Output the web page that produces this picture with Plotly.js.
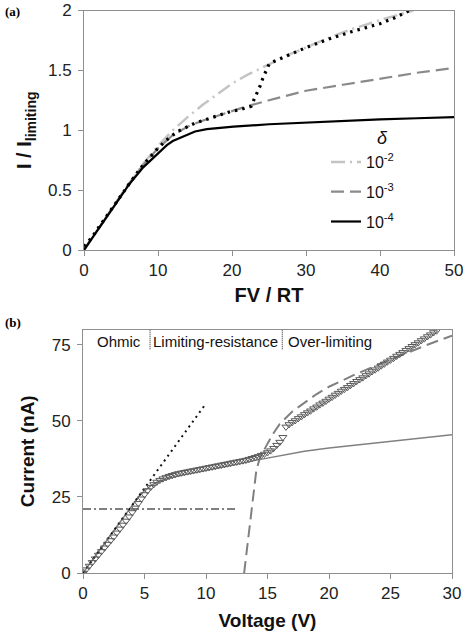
<!DOCTYPE html>
<html><head><meta charset="utf-8">
<script src="https://cdn.plot.ly/plotly-3.0.1.min.js"></script>
<style>html,body{margin:0;padding:0;background:#fff}#chart{width:469px;height:635px}</style>
</head><body><div id="chart"></div>
<script>
// ---------- Panel (a): I / I_limiting vs FV/RT ----------
const aX_d2 = [0, 2, 4, 6, 8, 10, 12, 14, 16, 18, 20, 22, 24, 26, 28, 30, 33, 36, 40, 44.5];
const aY_d2 = [0, 0.18, 0.37, 0.55, 0.72, 0.87, 1.0, 1.11, 1.21, 1.30, 1.39, 1.46, 1.52, 1.58, 1.64, 1.69, 1.77, 1.84, 1.92, 2.0];
const aX_d3 = [0, 2, 4, 6, 8, 10, 12, 14, 16, 18, 20, 22, 25, 30, 35, 40, 45, 50];
const aY_d3 = [0, 0.18, 0.37, 0.55, 0.71, 0.85, 0.96, 1.03, 1.08, 1.12, 1.16, 1.20, 1.25, 1.33, 1.38, 1.43, 1.48, 1.52];
const aX_d4 = [0, 2, 4, 6, 8, 10, 11.2, 12, 13.9, 15, 16.6, 18, 20.2, 25, 30, 35, 40, 45, 50];
const aY_d4 = [0, 0.18, 0.37, 0.54, 0.69, 0.81, 0.875, 0.91, 0.96, 0.99, 1.01, 1.02, 1.03, 1.05, 1.065, 1.08, 1.09, 1.10, 1.11];
const aX_exp = [0, 1, 2, 3, 4, 5, 6, 7, 8, 9, 10, 11, 12, 13, 14, 15, 16, 17, 18, 19, 20, 21, 22, 22.6, 23, 23.4, 23.8, 24.2, 24.6, 25, 25.5, 27, 30, 33, 36, 40, 42, 44];
const aY_exp = [0.03, 0.1, 0.19, 0.28, 0.37, 0.46, 0.55, 0.63, 0.71, 0.78, 0.85, 0.91, 0.96, 1.0, 1.03, 1.06, 1.08, 1.10, 1.12, 1.14, 1.16, 1.17, 1.19, 1.20, 1.26, 1.31, 1.37, 1.44, 1.50, 1.55, 1.57, 1.61, 1.69, 1.76, 1.82, 1.89, 1.94, 2.0];
const deltaLabels = ['10<sup>-2</sup>', '10<sup>-3</sup>', '10<sup>-4</sup>'];

// ---------- Panel (b): Current vs Voltage ----------
const bV_data = [0,0.25,0.5,0.75,1,1.25,1.5,1.75,2,2.25,2.5,2.75,3,3.25,3.5,3.75,4,4.25,4.5,4.75,5,5.25,5.5,5.75,6,6.25,6.5,6.75,7,7.25,7.5,7.75,8,8.25,8.5,8.75,9,9.25,9.5,9.75,10,10.25,10.5,10.75,11,11.25,11.5,11.75,12,12.25,12.5,12.75,13,13.25,13.5,13.75,14,14.25,14.5,14.75,15,15.25,15.5,15.75,16,16.25,16.5,16.75,17,17.25,17.5,17.75,18,18.25,18.5,18.75,19,19.25,19.5,19.75,20,20.25,20.5,20.75,21,21.25,21.5,21.75,22,22.25,22.5,22.75,23,23.25,23.5,23.75,24,24.25,24.5,24.75,25,25.25,25.5,25.75,26,26.25,26.5,26.75,27,27.25,27.5,27.75,28,28.25,28.5,28.75];
const bI_data = [0,1.1,2.3,3.5,4.7,5.9,7.1,8.3,9.5,10.7,11.9,13.2,14.5,15.8,17.1,18.5,19.9,21.4,22.9,24.4,25.8,27.1,28.2,29.1,29.9,30.5,31.0,31.4,31.8,32.1,32.4,32.7,32.9,33.1,33.3,33.5,33.7,33.9,34.1,34.3,34.5,34.7,34.9,35.1,35.3,35.5,35.7,35.9,36.1,36.3,36.5,36.7,36.9,37.1,37.4,37.7,38.0,38.3,38.7,39.1,39.6,40.2,41.0,42.0,43.0,44.6,48.0,48.8,49.5,50.1,50.8,51.4,52.1,52.7,53.3,54.0,54.6,55.3,55.9,56.5,57.2,57.8,58.5,59.1,59.8,60.4,61.0,61.7,62.3,63.0,63.6,64.2,64.9,65.5,66.2,66.8,67.4,68.1,68.7,69.4,70.0,70.6,71.3,71.9,72.5,73.2,73.8,74.5,75.1,75.7,76.4,77.0,77.7,78.3,79.0,79.6];
const bV_model = [0, 1, 2, 3, 4, 4.5, 5, 5.5, 6, 7, 8, 10, 12, 14, 16, 18, 20, 22, 25, 28, 30];
const bI_model = [0, 5.6, 11.2, 16.8, 22.4, 25, 27, 28.6, 29.8, 31.1, 32.1, 33.6, 35.3, 37.0, 38.6, 40.0, 41.1, 42.0, 43.2, 44.5, 45.4];
const bV_ohmic = [0, 10];
const bI_ohmic = [0, 55.7];
const bV_limiting = [0, 12.5];
const bI_limiting = [21, 21];
const bV_over = [13.1, 13.3, 13.5, 13.7, 13.9, 14.1, 14.4, 14.7, 15, 15.5, 16, 17, 18, 19, 20, 22, 24, 26, 28, 30];
const bI_over = [0, 7, 14, 22, 29, 34, 38, 40.5, 42.5, 46, 49, 53, 56, 58.8, 61.2, 65, 68.5, 71.8, 75, 78];
const regionBounds = [5.45, 16.2];
const regionLabels = ['Ohmic', 'Limiting-resistance', 'Over-limiting'];

const FONT = 'Liberation Sans, Arial, sans-serif';
const axisCommon = {
  showgrid: false, zeroline: false, showline: true, linecolor: '#8f8f8f', linewidth: 1,
  mirror: true, ticks: 'outside', ticklen: 5, tickcolor: '#8f8f8f',
  tickfont: {family: FONT, size: 17, color: '#222'}
};

const traces = [
  {x: aX_d2, y: aY_d2, xaxis: 'x', yaxis: 'y', mode: 'lines', name: deltaLabels[0], legendgroup: 'g1',
   line: {color: '#c4c4c4', width: 2.5, dash: '14px,5px,2px,5px'}},
  {x: aX_d3, y: aY_d3, xaxis: 'x', yaxis: 'y', mode: 'lines', name: deltaLabels[1], legendgroup: 'g2',
   line: {color: '#8a8a8a', width: 2.2, dash: '13px,6px'}},
  {x: aX_d4, y: aY_d4, xaxis: 'x', yaxis: 'y', mode: 'lines', name: deltaLabels[2], legendgroup: 'g3',
   line: {color: '#000', width: 2.2}},
  {x: aX_exp, y: aY_exp, xaxis: 'x', yaxis: 'y', mode: 'lines', showlegend: false,
   line: {color: '#000', width: 3.2, dash: '2.5px,5px'}},
  // panel b
  {x: bV_model, y: bI_model, xaxis: 'x2', yaxis: 'y2', mode: 'lines', showlegend: false,
   line: {color: '#808080', width: 1.5}},
  {x: bV_ohmic, y: bI_ohmic, xaxis: 'x2', yaxis: 'y2', mode: 'lines', showlegend: false,
   line: {color: '#111', width: 2, dash: '2px,4px'}},
  {x: bV_limiting, y: bI_limiting, xaxis: 'x2', yaxis: 'y2', mode: 'lines', showlegend: false,
   line: {color: '#808080', width: 2, dash: '8px,3px,2px,3px'}},
  {x: bV_over, y: bI_over, xaxis: 'x2', yaxis: 'y2', mode: 'lines', showlegend: false,
   line: {color: '#808080', width: 2, dash: '12px,6px'}},
  {x: bV_data, y: bI_data, xaxis: 'x2', yaxis: 'y2', mode: 'markers', showlegend: false,
   marker: {symbol: 'triangle-down-open', size: 7, color: '#5a5a5a', line: {width: 1, color: '#5a5a5a'}}}
];

const annotations = [
  {text: '<b>(a)</b>', xref: 'paper', yref: 'paper', x: 3/469, y: 1 - 2/635, xanchor: 'left', yanchor: 'top',
   showarrow: false, font: {family: 'Liberation Serif, Times New Roman, serif', size: 13, color: '#000'}},
  {text: '<b>(b)</b>', xref: 'paper', yref: 'paper', x: 3/469, y: 1 - 313/635, xanchor: 'left', yanchor: 'top',
   showarrow: false, font: {family: 'Liberation Serif, Times New Roman, serif', size: 13, color: '#000'}},
  {text: '<i>δ</i>', xref: 'paper', yref: 'paper', x: 382/469, y: 1 - 138/635, xanchor: 'center', yanchor: 'middle',
   showarrow: false, font: {family: FONT, size: 18, color: '#111'}},
  {text: regionLabels[0], xref: 'x2', yref: 'y2', x: 0, y: 76, xanchor: 'left', xshift: 12, showarrow: false,
   font: {family: FONT, size: 15, color: '#111'}},
  {text: regionLabels[1], xref: 'x2', yref: 'y2', x: regionBounds[0], y: 76, xanchor: 'left', xshift: 1, showarrow: false,
   font: {family: FONT, size: 15, color: '#111'}},
  {text: regionLabels[2], xref: 'x2', yref: 'y2', x: regionBounds[1], y: 76, xanchor: 'left', xshift: 4, showarrow: false,
   font: {family: FONT, size: 15, color: '#111'}}
];

const shapes = regionBounds.map(v => ({
  type: 'line', xref: 'x2', yref: 'y2', x0: v, x1: v, y0: 73.5, y1: 80,
  line: {color: '#222', width: 1, dash: '1px,1px'}
}));

const layout = {
  width: 469, height: 635,
  margin: {l: 0, r: 0, t: 0, b: 0},
  paper_bgcolor: '#fff', plot_bgcolor: '#fff',
  showlegend: true,
  legend: {
    x: 326/469, y: 1 - 145/635, xanchor: 'left', yanchor: 'top',
    bgcolor: 'rgba(0,0,0,0)', traceorder: 'grouped', tracegroupgap: 6,
    font: {family: FONT, size: 16, color: '#111'}
  },
  xaxis: Object.assign({}, axisCommon, {domain: [84/469, 454/469], range: [0, 50], dtick: 10, anchor: 'y',
    title: {text: '<b>FV / RT</b>', font: {family: FONT, size: 20, color: '#111'}, standoff: 8}}),
  yaxis: Object.assign({}, axisCommon, {domain: [1 - 250/635, 1 - 10.5/635], range: [0, 2], dtick: 0.5, anchor: 'x',
    ticklabelstandoff: 3,
    title: {text: '<b>I / I<sub>limiting</sub></b>', font: {family: FONT, size: 20, color: '#111'}, standoff: 10}}),
  xaxis2: Object.assign({}, axisCommon, {domain: [83/469, 452/469], range: [0, 30], dtick: 5, anchor: 'y2',
    title: {text: '<b>Voltage (V)</b>', font: {family: FONT, size: 19, color: '#111'}, standoff: 11}}),
  yaxis2: Object.assign({}, axisCommon, {domain: [1 - 573/635, 1 - 329.5/635], range: [0, 80], dtick: 25, anchor: 'x2',
    ticklabelstandoff: 3,
    title: {text: '<b>Current (nA)</b>', font: {family: FONT, size: 19, color: '#111'}, standoff: 12}}),
  annotations: annotations,
  shapes: shapes
};

Plotly.newPlot('chart', traces, layout, {displayModeBar: false, staticPlot: true});
</script></body></html>
